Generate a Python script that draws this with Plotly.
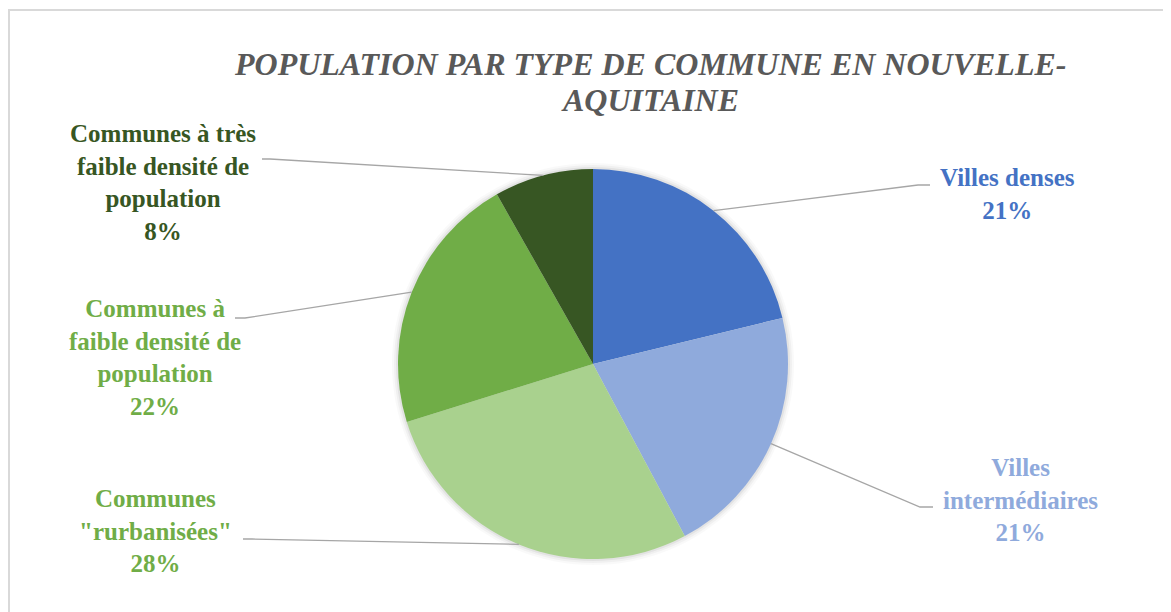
import math
import plotly.graph_objects as go

OFF = 8            # page body margin offset
W, H = 1171 - OFF, 612 - OFF

# ---- data ----
categories = ["Villes denses", "Villes intermédiaires", "Communes \"rurbanisées\"",
              "Communes à faible densité de population",
              "Communes à très faible densité de population"]
label_texts = ["Villes denses", "Villes<br>intermédiaires", "Communes<br>\"rurbanisées\"",
               "Communes à<br>faible densité de<br>population",
               "Communes à très<br>faible densité de<br>population"]
values = [21.2, 21.0, 28.0, 21.6, 8.2]
slice_colors = ["#4472C4", "#8FAADC", "#A9D18E", "#70AD47", "#375623"]
text_colors = ["#4472C4", "#8FAADC", "#70AD47", "#70AD47", "#375623"]
title_lines = ["POPULATION PAR TYPE DE COMMUNE EN NOUVELLE-", "AQUITAINE"]

SERIF = "Liberation Serif"

# ---- layout geometry (page pixels) ----
cx, cy, R = 593, 364, 195
label_pos = [(1007, 194), (1020, 500), (155, 531), (155, 357), (163, 182)]
elbows = [((930, 185), (918, 185)), ((933, 507), (920, 507)),
          ((243, 539), (252, 539)), ((235, 318), (245, 318)),
          ((262, 159), (270, 159))]
title_y = [63.5, 99.5]

def px(x):
    return (x - OFF) / W

def py(y):
    return 1 - (y - OFF) / H

fig = go.Figure()
# soft shadow behind the pie
for dr, alpha in [(6, 0.025), (4, 0.035), (2, 0.05)]:
    fig.add_trace(go.Pie(
        values=[1], labels=["shadow"], sort=False, textinfo="none", hoverinfo="skip",
        marker=dict(colors=[f"rgba(0,0,0,{alpha})"], line=dict(width=0)),
        domain=dict(x=[px(cx - R - dr), px(cx + R + dr)],
                    y=[py(cy + R + dr), py(cy - R - dr)]),
        showlegend=False,
    ))

fig.add_trace(go.Pie(
    labels=categories, values=values, sort=False, direction="clockwise",
    rotation=0, textinfo="none", hoverinfo="label+percent",
    marker=dict(colors=slice_colors, line=dict(width=0)),
    domain=dict(x=[px(cx - R), px(cx + R)], y=[py(cy + R), py(cy - R)]),
    showlegend=False,
))

total = sum(values)
shapes = []
annotations = []
cum = 0.0
for i, v in enumerate(values):
    mid = (cum + v / 2) / total * 2 * math.pi
    cum += v
    ex = cx + R * math.sin(mid)
    ey = cy - R * math.cos(mid)
    (ax1, ay1), (ax2, ay2) = elbows[i]
    path = f"M {px(ex)},{py(ey)} L {px(ax2)},{py(ay2)} L {px(ax1)},{py(ay1)}"
    shapes.append(dict(type="path", xref="paper", yref="paper", path=path,
                       line=dict(color="#A6A6A6", width=1.3)))
    pct = round(v / total * 100)
    lx, ly = label_pos[i]
    annotations.append(dict(
        x=px(lx), y=py(ly), xref="paper", yref="paper", showarrow=False,
        xanchor="center", yanchor="middle", align="center",
        text=f"<b>{label_texts[i]}<br>{pct}%</b>",
        font=dict(family=SERIF, size=25, color=text_colors[i]),
    ))

for line, ty in zip(title_lines, title_y):
    annotations.append(dict(
        x=px(650), y=py(ty), xref="paper", yref="paper", showarrow=False,
        xanchor="center", yanchor="middle", align="center",
        text=f"<b><i>{line}</i></b>",
        font=dict(family=SERIF, size=32, color="#595959"),
    ))

shapes.append(dict(type="rect", xref="paper", yref="paper",
                   x0=px(9), y0=py(10), x1=px(1171 + 20), y1=py(612 + 20),
                   line=dict(color="#D9D9D9", width=2), layer="below"))

fig.update_layout(
    width=W, height=H, margin=dict(l=0, r=0, t=0, b=0),
    paper_bgcolor="white", plot_bgcolor="white",
    shapes=shapes, annotations=annotations,
)
fig.write_html("out.html")
